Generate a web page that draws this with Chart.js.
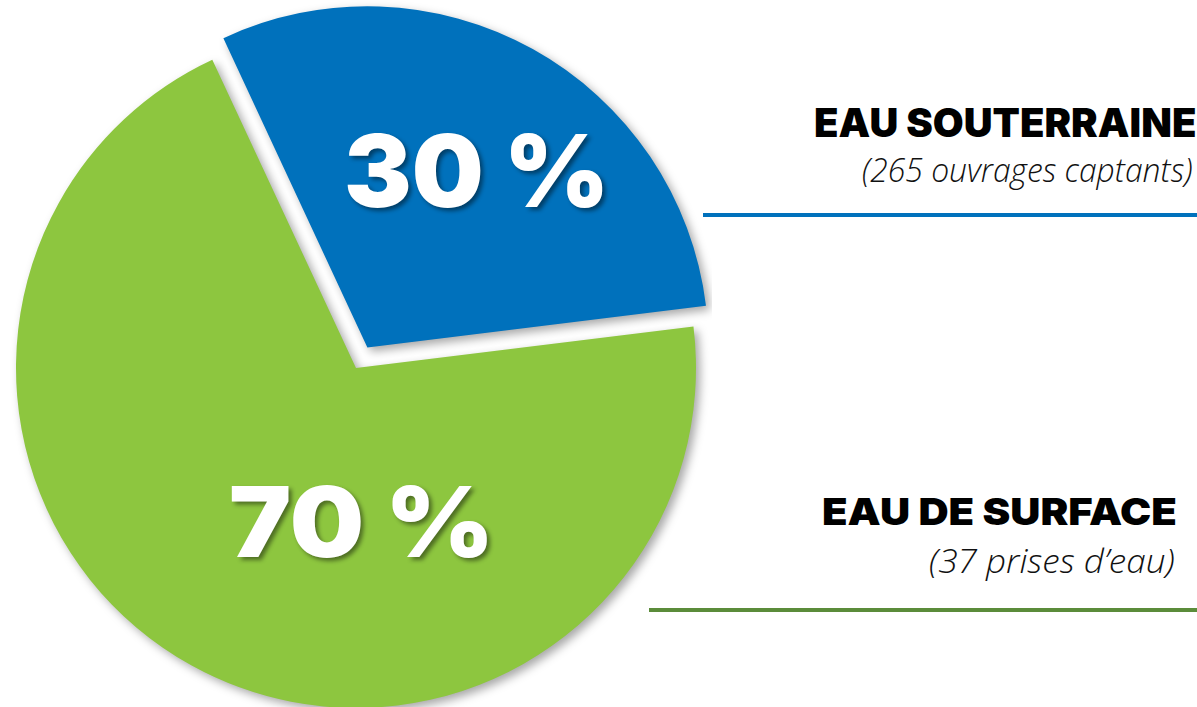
<!DOCTYPE html>
<html><head><meta charset="utf-8">
<script src="https://cdn.jsdelivr.net/npm/chart.js@4"></script>
<style>
html,body{margin:0;padding:0;width:1197px;height:707px;overflow:hidden;background:#fff;}
#wrap{position:absolute;left:0;top:0;width:712px;height:736px;}
.lbl{position:absolute;left:0;top:0;white-space:nowrap;line-height:1;transform-origin:0 0;margin:0;padding:0;}
.mk{display:inline-block;width:0;height:0;vertical-align:baseline;}
.rule{position:absolute;height:4px;}
</style></head><body>
<div id="wrap"><canvas id="c"></canvas></div>
<div id="labels"></div>
<script>
// ---- data ----
const categories = ['Eau de surface', 'Eau souterraine'];
const shares = [70, 30];
const sourceCounts = ['(37 prises d\u2019eau)', '(265 ouvrages captants)'];

// ---- styles ----
const sliceColors = ['#8dc63f', '#0071bc'];
const ruleColors = ['#5b8c3a', '#0071bc'];
const sliceOffsets = [0, 94];

const shadowPlugin = {
  id: 'sliceShadow',
  beforeDatasetsDraw(chart) {
    const c = chart.ctx; c.save();
    c.shadowColor = 'rgba(0,0,0,0.35)'; c.shadowBlur = 10; c.shadowOffsetX = 4; c.shadowOffsetY = 4;
  },
  afterDatasetsDraw(chart) { chart.ctx.restore(); }
};

const chart = new Chart(document.getElementById('c'), {
  type: 'pie',
  data: {
    labels: categories,
    datasets: [{
      data: shares,
      backgroundColor: sliceColors,
      borderWidth: 0,
      offset: sliceOffsets
    }]
  },
  options: {
    responsive: true,
    maintainAspectRatio: false,
    animation: false,
    events: [],
    rotation: 83,
    radius: 340,
    layout: { padding: 0 },
    plugins: { legend: { display: false }, tooltip: { enabled: false } }
  },
  plugins: [shadowPlugin]
});

// ---- text labels ----
const mctx = document.createElement('canvas').getContext('2d');
const host = document.getElementById('labels');
function placeText(text, font, capRef, box, color, extra) {
  const el = document.createElement('div');
  el.className = 'lbl';
  mctx.font = font.replace('{S}', '100px');
  const capA = mctx.measureText(capRef).actualBoundingBoxAscent;
  const size = (box.baseline - box.capTop) / capA * 100;
  const f = font.replace('{S}', size.toFixed(2) + 'px');
  mctx.font = f;
  const m = mctx.measureText(text);
  const inkL = -m.actualBoundingBoxLeft, inkR = m.actualBoundingBoxRight;
  const s = (box.right - box.left) / (inkR - inkL);
  el.style.font = f;
  el.style.color = color;
  if (extra) Object.assign(el.style, extra);
  el.appendChild(document.createTextNode(text));
  const mk = document.createElement('span'); mk.className = 'mk'; el.appendChild(mk);
  host.appendChild(el);
  const baseOff = mk.offsetTop;
  el.style.left = (box.left - s * inkL) + 'px';
  el.style.top = (box.baseline - baseOff) + 'px';
  el.style.transform = 'scaleX(' + s + ')';
}
function rule(color, left, top, width) {
  const d = document.createElement('div'); d.className = 'rule';
  d.style.background = color; d.style.left = left + 'px'; d.style.top = top + 'px'; d.style.width = width + 'px';
  host.appendChild(d);
}

const pctFont = '900 {S} Inter';
const headFont = '900 {S} Inter';
const subFont = 'italic 300 {S} "Open Sans"';
const pctShadow = { textShadow: '3px 3px 4px rgba(0,0,0,0.45)' };

// percentage labels (index 0 = surface, 1 = souterraine)
const pctBoxes = [
  { left: 231, right: 487, capTop: 485, baseline: 557 },
  { left: 347, right: 603, capTop: 133, baseline: 207 }
];
const headBoxes = [
  { left: 823, right: 1176, capTop: 498, baseline: 525 },
  { left: 815, right: 1195, capTop: 108, baseline: 137 }
];
const subBoxes = [
  { left: 930, right: 1174, capTop: 549, baseline: 573 },
  { left: 863, right: 1192, capTop: 158, baseline: 182 }
];
const rules = [ { left: 649, top: 608, width: 548 }, { left: 703, top: 213, width: 494 } ];

shares.forEach((v, i) => {
  placeText(v + ' %', pctFont, '3', pctBoxes[i], '#ffffff', pctShadow);
  placeText(categories[i].toUpperCase(), headFont, 'E', headBoxes[i], '#000000');
  placeText(sourceCounts[i], subFont, '3', subBoxes[i], '#111111');
  rule(ruleColors[i], rules[i].left, rules[i].top, rules[i].width);
});
</script>
</body></html>
